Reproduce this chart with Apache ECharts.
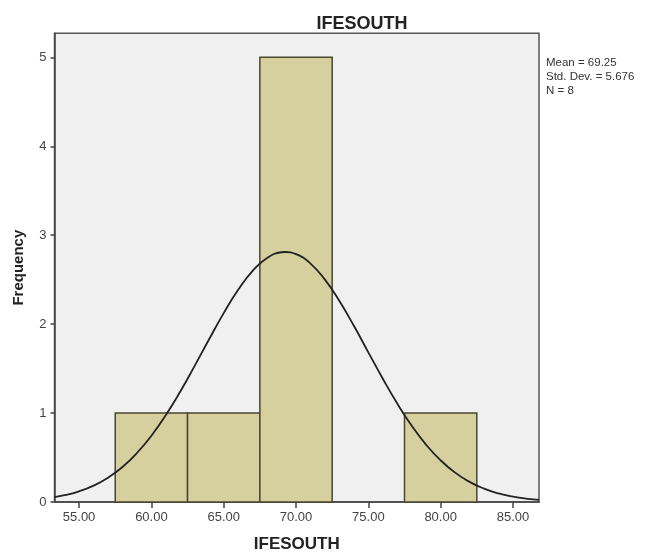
<!DOCTYPE html>
<html>
<head>
<meta charset="utf-8">
<script src="https://cdn.jsdelivr.net/npm/echarts@6/dist/echarts.min.js"></script>
<style>
html,body{margin:0;padding:0;background:#fff;}
#chart{width:655px;height:558px;}
</style>
</head>
<body>
<div id="chart"></div>
<script>
// Histogram bins (IFESOUTH)
const binStart = [57.5, 62.5, 67.5, 72.5, 77.5];
const binEnd   = [62.5, 67.5, 72.5, 77.5, 82.5];
const frequency = [1, 1, 5, 0, 1];

// Normal curve
const curveX = [53.3, 54, 55, 56, 57, 58, 59, 60, 61, 62, 63, 64, 65, 66, 67, 68, 69, 69.25, 70, 71, 72, 73, 74, 75, 76, 77, 78, 79, 80, 81, 82, 83, 84, 85, 86, 86.8];
const curveY = [0.054, 0.076, 0.120, 0.184, 0.274, 0.394, 0.551, 0.745, 0.978, 1.243, 1.533, 1.833, 2.124, 2.386, 2.599, 2.744, 2.808, 2.811, 2.787, 2.681, 2.500, 2.260, 1.981, 1.683, 1.386, 1.107, 0.857, 0.643, 0.468, 0.330, 0.226, 0.150, 0.096, 0.060, 0.036, 0.024];

// Axis ticks
const xTicks = [55, 60, 65, 70, 75, 80, 85];
const yTicks = [0, 1, 2, 3, 4, 5];

// Statistics text
const statsText = ['Mean = 69.25', 'Std. Dev. = 5.676', 'N = 8'];
const chartTitle = 'IFESOUTH';
const xName = 'IFESOUTH';
const yName = 'Frequency';

const FONT = '"Liberation Sans", Arial, sans-serif';

const barData = binStart.map((s, i) => [s, binEnd[i], frequency[i]]).filter(d => d[2] > 0);
const lineData = curveX.map((x, i) => [x, curveY[i]]);

const chart = echarts.init(document.getElementById('chart'), null, {renderer: 'canvas'});
chart.setOption({
  animation: false,
  backgroundColor: '#ffffff',
  title: {
    text: chartTitle,
    left: 357,
    top: 10,
    textAlign: 'center',
    textStyle: {fontFamily: FONT, fontSize: 18, fontWeight: 'bold', color: '#222'}
  },
  grid: {
    left: 54.5, right: 116, top: 33.3, bottom: 53.7,
    show: true,
    backgroundColor: '#f0f0f0',
    borderColor: '#555',
    borderWidth: 1.5
  },
  xAxis: {
    type: 'value',
    min: 53.3,
    max: 86.8,
    name: xName,
    nameLocation: 'middle',
    nameGap: 34,
    nameTextStyle: {fontFamily: FONT, fontSize: 17, fontWeight: 'bold', color: '#222'},
    splitLine: {show: false},
    axisLine: {show: true, onZero: false, lineStyle: {color: '#444', width: 1.5}},
    axisTick: {show: true, length: 6, customValues: xTicks, lineStyle: {color: '#444', width: 1.5}},
    axisLabel: {
      customValues: xTicks,
      margin: 9,
      fontFamily: FONT, fontSize: 13, color: '#444',
      formatter: v => Number(v).toFixed(2)
    }
  },
  yAxis: {
    type: 'value',
    min: 0,
    max: 5.27,
    name: yName,
    nameLocation: 'middle',
    nameGap: 28,
    nameRotate: 90,
    nameTextStyle: {fontFamily: FONT, fontSize: 15, fontWeight: 'bold', color: '#222'},
    splitLine: {show: false},
    axisLine: {show: true, lineStyle: {color: '#444', width: 1.5}},
    axisTick: {show: true, length: 4, customValues: yTicks, lineStyle: {color: '#444', width: 1.5}},
    axisLabel: {
      customValues: yTicks,
      margin: 8,
      fontFamily: FONT, fontSize: 13, color: '#444'
    }
  },
  graphic: statsText.map((t, i) => ({
    type: 'text',
    left: 546,
    top: 57 + i * 14,
    style: {text: t, fontFamily: FONT, fontSize: 11.5, fill: '#333'}
  })),
  series: [
    {
      type: 'custom',
      data: barData,
      encode: {x: [0, 1], y: 2},
      renderItem: function (params, api) {
        const x0 = api.value(0), x1 = api.value(1), y = api.value(2);
        const p0 = api.coord([x0, y]);
        const p1 = api.coord([x1, 0]);
        return {
          type: 'rect',
          shape: {x: p0[0], y: p0[1], width: p1[0] - p0[0], height: p1[1] - p0[1]},
          style: {fill: '#d5d09e', stroke: '#4a4632', lineWidth: 1.5}
        };
      },
      z: 2
    },
    {
      type: 'line',
      data: lineData,
      smooth: true,
      showSymbol: false,
      symbol: 'none',
      lineStyle: {color: '#222', width: 1.8},
      z: 3
    }
  ]
});
</script>
</body>
</html>
